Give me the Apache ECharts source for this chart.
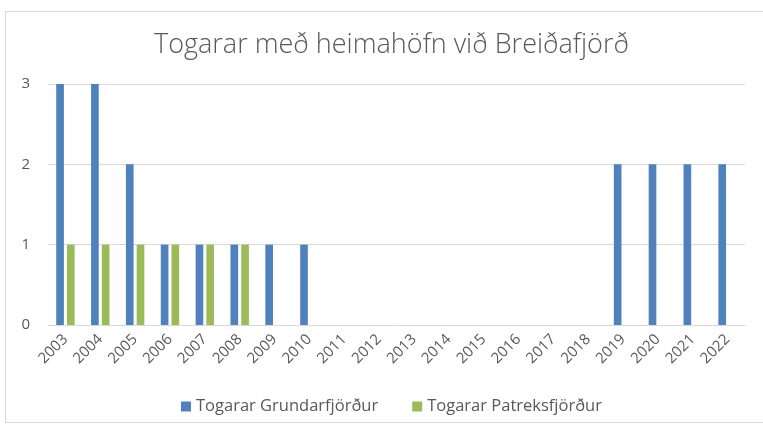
<!DOCTYPE html>
<html>
<head>
<meta charset="utf-8">
<script src="https://cdn.jsdelivr.net/npm/echarts@6/dist/echarts.min.js"></script>
<style>
  html, body { margin: 0; padding: 0; background: #fff; }
  #frame { position: absolute; left: 5px; top: 11px; width: 770px; height: 412px; border: 1px solid #d9d9d9; box-sizing: border-box; }
  #main { position: absolute; left: 0; top: 0; width: 763px; height: 428px; }
</style>
</head>
<body>
<div id="frame"></div>
<div id="main"></div>
<script>
const years = ['2003','2004','2005','2006','2007','2008','2009','2010','2011','2012',
  '2013','2014','2015','2016','2017','2018','2019','2020','2021','2022'];
const grundarfjordur = [3, 3, 2, 1, 1, 1, 1, 1, 0, 0, 0, 0, 0, 0, 0, 0, 2, 2, 2, 2];
const patreksfjordur = [1, 1, 1, 1, 1, 1, 0, 0, 0, 0, 0, 0, 0, 0, 0, 0, 0, 0, 0, 0];
const yTicks = [0, 1, 2, 3];

const myChart = echarts.init(document.getElementById('main'));
const txt = '#595959';
const option = {
  animation: false,
  title: {
    text: 'Togarar með heimahöfn við Breiðafjörð',
    left: 149,
    top: 27,
    textStyle: { fontFamily: 'Open Sans', fontWeight: 300, fontSize: 27, color: txt }
  },
  legend: {
    bottom: 8,
    left: 176,
    itemWidth: 10,
    itemHeight: 10,
    itemGap: 34,
    icon: 'rect',
    textStyle: { fontFamily: 'Open Sans', fontSize: 16.5, color: txt }
  },
  grid: { left: 48, right: 18, top: 84, bottom: 103 },
  xAxis: {
    type: 'category',
    data: years,
    axisTick: { show: false },
    axisLine: { lineStyle: { color: '#d9d9d9' } },
    axisLabel: { rotate: 45, interval: 0, fontFamily: 'Open Sans', fontSize: 15, color: txt, margin: 12 }
  },
  yAxis: {
    type: 'value',
    min: yTicks[0],
    max: yTicks[yTicks.length - 1],
    interval: 1,
    axisLine: { show: false },
    axisTick: { show: false },
    splitLine: { lineStyle: { color: '#d9d9d9' } },
    axisLabel: { fontFamily: 'Open Sans', fontSize: 15, color: txt, margin: 18 }
  },
  series: [
    { name: 'Togarar Grundarfjörður', type: 'bar', data: grundarfjordur, barWidth: '22%', barGap: '40%', itemStyle: { color: '#4f81bd' } },
    { name: 'Togarar Patreksfjörður', type: 'bar', data: patreksfjordur, barWidth: '22%', itemStyle: { color: '#9bbb59' } }
  ]
};
myChart.setOption(option);
</script>
</body>
</html>
